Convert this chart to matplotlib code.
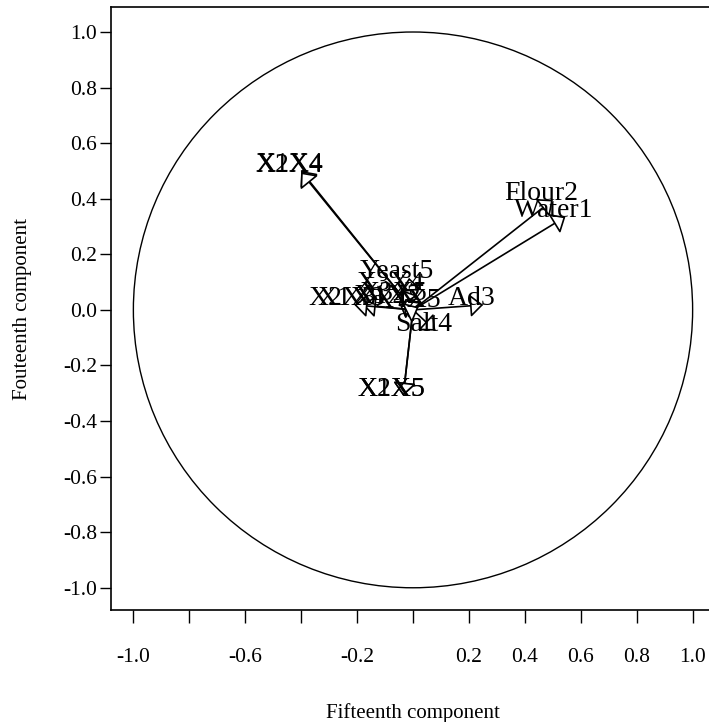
import numpy as np
import matplotlib
matplotlib.use("Agg")
import matplotlib.pyplot as plt
from matplotlib.patches import Circle

plt.rcParams["font.family"] = ["Liberation Serif", "DejaVu Serif"]

# loadings on the two components (arrow tips)
labels = ["Water1", "Flour2", "Ad3", "Salt4", "Yeast5",
          "X1X2", "X1X3", "X1X4", "X1X5", "X2X3",
          "X2X4", "X2X5", "X3X4", "X3X5", "X4X5"]
comp15 = [0.545, 0.50, 0.251, 0.08, -0.014,
          -0.05, -0.18, -0.40, -0.035, -0.21,
          -0.40, -0.035, -0.04, -0.03, 0.02]
comp14 = [0.335, 0.396, 0.018, -0.075, 0.115,
          0.025, 0.018, 0.50, -0.309, 0.018,
          0.495, -0.309, 0.072, 0.036, 0.01]

tick_vals = [-1.0, -0.8, -0.6, -0.4, -0.2, 0.0, 0.2, 0.4, 0.6, 0.8, 1.0]
xtick_labels = ["-1.0", "", "-0.6", "", "-0.2", "", "0.2", "0.4", "0.6", "0.8", "1.0"]
ytick_labels = ["-1.0", "-0.8", "-0.6", "-0.4", "-0.2", "0.0", "0.2", "0.4", "0.6", "0.8", "1.0"]

fig = plt.figure(figsize=(7.09, 7.22), dpi=100)
ax = fig.add_axes([111 / 709, (722 - 610) / 722, 604 / 709, 603 / 722])
ax.set_xlim(-1.08, 1.08)
ax.set_ylim(-1.08, 1.09)

# unit circle
ax.add_patch(Circle((0, 0), 1.0, fill=False, edgecolor="black", linewidth=1.0))

# arrows from origin with open triangle heads
for name, x, y in zip(labels, comp15, comp14):
    ax.annotate("", xy=(x, y), xytext=(0, 0),
                arrowprops=dict(arrowstyle="-|>,head_length=0.8,head_width=0.7",
                                mutation_scale=10, fc="white", ec="black",
                                lw=1.2, shrinkA=0, shrinkB=0))
for name, x, y in zip(labels, comp15, comp14):
    ax.annotate(name, xy=(x, y), xytext=(-8.5, 0), textcoords="offset points",
                ha="center", va="baseline", fontsize=20)

for side in ["top", "bottom", "left", "right"]:
    ax.spines[side].set_linewidth(1.2)

ax.set_xticks(tick_vals)
ax.set_xticklabels(xtick_labels)
ax.set_yticks(tick_vals)
ax.set_yticklabels(ytick_labels)
ax.tick_params(axis="x", direction="out", length=9, width=1.0, pad=18, labelsize=15.5)
ax.tick_params(axis="y", direction="out", length=8, width=1.0, pad=2, labelsize=15.5)

ax.set_xlabel("Fifteenth component", fontsize=15, labelpad=26)
ax.set_ylabel("Fouteenth component", fontsize=15, labelpad=22)

fig.savefig("out.png", dpi=100)
